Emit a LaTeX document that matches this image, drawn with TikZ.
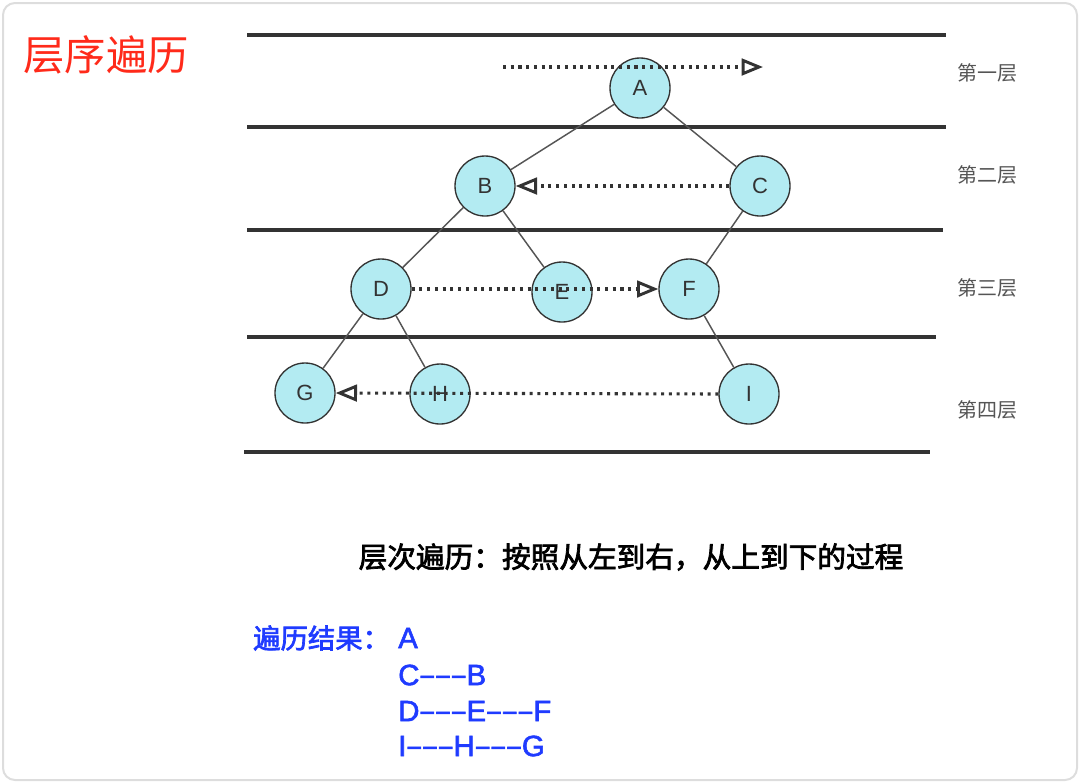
\documentclass[tikz,border=0pt]{standalone}
\usepackage{fontspec}
\usetikzlibrary{arrows.meta}
\newfontfamily\cjk{Noto Sans CJK SC}
\newfontfamily\cjkm[FakeBold=2.5]{Noto Sans CJK SC}
\newfontfamily\lat{Liberation Sans}
\newfontfamily\latm[FakeBold=2.0]{Liberation Sans}
\newcommand\mydsh{{\cjkm –––}}
\definecolor{nodefill}{HTML}{B3EBF2}
\definecolor{dark}{HTML}{333333}
\definecolor{edgec}{HTML}{555555}
\definecolor{titlered}{HTML}{FF2A1A}
\definecolor{resblue}{HTML}{1F3BFF}
\definecolor{bordergray}{HTML}{DDDDDD}
\tikzset{
  tnode/.style={circle, draw=dark, line width=1pt, fill=nodefill, minimum size=45pt, inner sep=0pt, font=\lat\fontsize{16.5}{17}\selectfont, text=dark},
  level/.style={draw=dark, line width=2.4pt},
  tedge/.style={draw=edgec, line width=1.1pt},
  dotarrow/.style={draw=dark, line width=2.3pt, dash pattern=on 2.3pt off 3.5pt, -{Triangle[open, length=16pt, width=12.5pt, line width=2.2pt]}},
  levlabel/.style={font=\cjk\fontsize{15}{16}\selectfont, text=edgec},
  result/.style={font=\latm\fontsize{22}{24}\selectfont, text=resblue, anchor=west, inner sep=0pt}
}
\begin{document}
\begin{tikzpicture}[x=0.75pt, y=-0.75pt]
\useasboundingbox (0,0) rectangle (1080,783);
\draw[bordergray, line width=1.5pt, rounded corners=9pt] (3,3) rectangle (1077,780);

\node[font=\cjk\fontsize{31}{32}\selectfont, text=titlered] (title) at (106,55) {层序遍历};

% level lines
\draw[level] (247,35) -- (946,35);
\draw[level] (247,127) -- (946,127);
\draw[level] (247,230) -- (943,230);
\draw[level] (247,337) -- (936,337);
\draw[level] (244,452) -- (930,452);

% level labels
\node[levlabel] (l1) at (987,73) {第一层};
\node[levlabel] (l2) at (987,175) {第二层};
\node[levlabel] (l3) at (987,288) {第三层};
\node[levlabel] (l4) at (987,410) {第四层};

% nodes
\node[tnode] (A) at (640,88) {A};
\node[tnode] (B) at (485,186) {B};
\node[tnode] (C) at (760,186) {C};
\node[tnode] (D) at (381,289) {D};
\node[tnode] (E) at (562,292) {E};
\node[tnode] (F) at (689,289) {F};
\node[tnode] (G) at (305,393) {G};
\node[tnode] (H) at (440,394) {H};
\node[tnode] (I) at (749,394) {I};

% edges
\draw[tedge] (A) -- (B);
\draw[tedge] (A) -- (C);
\draw[tedge] (B) -- (D);
\draw[tedge] (B) -- (E);
\draw[tedge] (C) -- (F);
\draw[tedge] (D) -- (G);
\draw[tedge] (D) -- (H);
\draw[tedge] (F) -- (I);

% traversal arrows
\coordinate (s1) at (503,67);
\coordinate (e1) at (763,67);
\draw[dotarrow] (s1) -- (e1);
\draw[dotarrow] (C.west) -- (B.east);
\draw[dotarrow] (D.east) -- (F.west);
\draw[dotarrow] (I.west) -- (G.east);

% description
\node[font=\cjkm\fontsize{21.5}{23}\selectfont, text=black] (desc) at (631,557) {层次遍历：按照从左到右，从上到下的过程};

% result
\node[result, font=\cjkm\fontsize{20.5}{22}\selectfont] (rl) at (253,638) {遍历结果：};
\node[result] (r1) at (398,638) {A};
\node[result] (r2) at (398,675) {C\mydsh B};
\node[result] (r3) at (398,711) {D\mydsh E\mydsh F};
\node[result] (r4) at (398,746) {I\mydsh H\mydsh G};
\end{tikzpicture}
\end{document}
